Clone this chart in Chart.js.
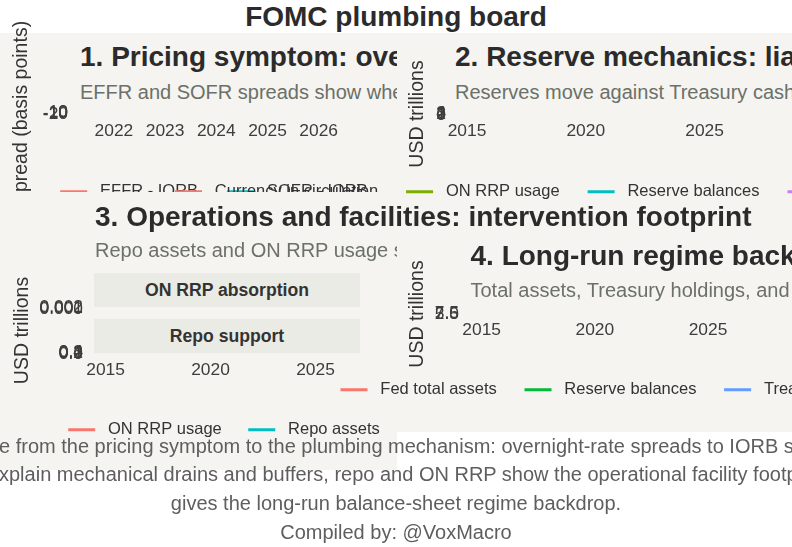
<!DOCTYPE html>
<html><head><meta charset="utf-8">
<script src="https://cdn.jsdelivr.net/npm/chart.js@4.4.1/dist/chart.umd.min.js"></script>
<style>
html,body{margin:0;padding:0;background:#fff;}
body{width:792px;height:547px;position:relative;overflow:hidden;font-family:'Liberation Sans',Arial,sans-serif;}
.bg{position:absolute;background:#F5F4F0;}
.t{position:absolute;white-space:nowrap;line-height:1;}
.title{font-weight:bold;font-size:28px;color:#2b2b2b;}
.sub{font-size:20px;color:#6b7068;}
.strip{position:absolute;background:#EBEBE6;font-weight:bold;font-size:17.6px;color:#333;display:flex;align-items:center;justify-content:center;}
.cap{position:absolute;white-space:nowrap;line-height:1;font-size:20px;color:#5e5e5e;}
canvas{position:absolute;}
</style></head>
<body>
<div class="t title" style="left:0;width:792px;text-align:center;top:3.3px;">FOMC plumbing board</div>

<div class="bg" style="left:0;top:33px;width:397px;height:159px;"></div>
<div class="t title" style="left:80px;top:43px;">1. Pricing symptom: overnight-rate spreads to IORB</div>
<div class="t sub" style="left:80px;top:82.1px;">EFFR and SOFR spreads show when overnight funding tightens</div>
<canvas id="c1" width="428" height="210" style="left:0;top:0;"></canvas>

<div class="bg" style="left:397px;top:33px;width:395px;height:202px;"></div>
<div class="t title" style="left:455px;top:43px;">2. Reserve mechanics: liability-side drains and buffers</div>
<div class="t sub" style="left:455px;top:82.1px;">Reserves move against Treasury cash, ON RRP, and currency</div>
<canvas id="c2" width="940" height="170" style="left:147px;top:40px;"></canvas>

<div class="bg" style="left:0;top:192px;width:397px;height:278px;"></div>
<div class="t title" style="left:95px;top:203px;">3. Operations and facilities: intervention footprint</div>
<div class="t sub" style="left:95px;top:239.8px;">Repo assets and ON RRP usage show when the Fed adds or absorbs liquidity</div>
<div class="strip" style="left:94px;top:273px;width:266px;height:34px;">ON RRP absorption</div>
<div class="strip" style="left:94px;top:319px;width:266px;height:34px;">Repo support</div>
<canvas id="c3" width="448" height="188" style="left:0;top:260px;"></canvas>

<div class="bg" style="left:397px;top:235px;width:395px;height:197px;"></div>
<div class="t title" style="left:470.5px;top:242.3px;">4. Long-run regime backdrop</div>
<div class="t sub" style="left:470.5px;top:280.1px;">Total assets, Treasury holdings, and reserve balances</div>
<canvas id="c4" width="735" height="168" style="left:250px;top:240px;"></canvas>

<div class="cap" id="cap1" style="top:436.1px;left:0;"><span class="pre">Mov</span>e from the pricing symptom to the plumbing mechanism: overnight-rate spreads to IORB show funding pressure,</div>
<div class="cap" id="cap2" style="top:464.1px;left:0;"><span class="pre">reserves and Treasury cash e</span>xplain mechanical drains and buffers, repo and ON RRP show the operational facility footprint, and the balance sheet</div>
<div class="cap" style="top:493.1px;left:0;width:792px;text-align:center;">gives the long-run balance-sheet regime backdrop.</div>
<div class="cap" style="top:522.1px;left:0;width:792px;text-align:center;">Compiled by: @VoxMacro</div>

<script>
// ---------------- DATA ----------------
// Panel 1: overnight-rate spreads to IORB (basis points), quarterly
const years1 = [2021.25,2021.5,2021.75,2022.0,2022.25,2022.5,2022.75,2023.0,2023.25,2023.5,2023.75,2024.0,2024.25,2024.5,2024.75,2025.0,2025.25,2025.5,2025.75,2026.0];
const effrSpread = [-7,-5,-7,-7,-7,-7,-7,-7,-7,-7,-7,-7,-7,-7,-7,-7,-6,-5,-4,-1];
const sofrSpread = [-10,-15,-10,-10,-10,-10,-8,-10,-10,-9,-8,-7,-6,-6,-5,-3,-2,0,2,4];
const xTicks1 = [2022,2023,2024,2025,2026];
const yTicks1 = [-20,-10,0,10];

// Panels 2-4: USD trillions, semiannual
const years = [2015.0,2015.5,2016.0,2016.5,2017.0,2017.5,2018.0,2018.5,2019.0,2019.5,2020.0,2020.5,2021.0,2021.5,2022.0,2022.5,2023.0,2023.5,2024.0,2024.5,2025.0,2025.5,2026.0];
const currency = [1.34,1.38,1.42,1.48,1.52,1.57,1.62,1.67,1.70,1.75,1.81,1.94,2.07,2.16,2.20,2.24,2.26,2.30,2.31,2.33,2.36,2.39,2.42];
const onRrp = [0.10,0.15,0.45,0.30,0.40,0.05,0.10,0.04,0.01,0.01,0.00,0.00,0.02,0.99,1.70,2.33,2.22,2.10,1.00,0.40,0.20,0.10,0.01];
const reserves = [2.56,2.60,2.38,2.20,2.10,2.30,2.20,1.90,1.65,1.51,1.60,2.80,3.20,3.90,4.20,3.30,3.03,3.20,3.50,3.30,3.20,3.25,2.95];
const tga = [0.20,0.25,0.35,0.30,0.40,0.20,0.20,0.35,0.38,0.30,0.40,1.60,1.20,0.70,0.50,0.60,0.45,0.25,0.75,0.75,0.85,0.40,0.85];
const yTicks2 = [0,1,2,3,4];
const xTicksLong = [2015,2020,2025];

// Panel 3 facets
const onRrpFacet = [0.0008,0.0012,0.0020,0.0015,0.0018,0.0006,0.0009,0.0004,0.0002,0.0001,0.0000,0.0000,0.0002,0.0010,0.0016,0.0019,0.0018,0.0017,0.0011,0.0006,0.0003,0.0002,0.0001];
const repoAssets = [0,0,0,0,0,0,0,0,0,0,0.41,0.06,0,0,0,0,0,0,0,0,0,0,0.01];
const yTicks3a = [0,0.001,0.002];
const yTicks3b = [0,0.1,0.2,0.3,0.4];

// Panel 4
const fedAssets = [4.50,4.50,4.49,4.48,4.47,4.46,4.44,4.30,4.07,3.80,4.17,7.10,7.40,8.20,8.76,8.90,8.49,8.30,7.68,7.20,6.85,6.66,6.58];
const treasuries = [2.46,2.46,2.46,2.46,2.46,2.46,2.45,2.35,2.19,2.10,2.37,4.30,4.69,5.20,5.65,5.77,5.47,5.20,4.85,4.47,4.25,4.20,4.19];
const yTicks4 = [2.5,5.0,7.5];

// ---------------- CHARTS ----------------
Chart.defaults.font.family = "'Liberation Sans', Arial, sans-serif";
Chart.defaults.color = '#3d3d3d';
Chart.defaults.animation = false;

const TICKFONT = {size: 17.4};
const TITLEFONT = {size: 19.5};
const baseGen = Chart.defaults.plugins.legend.labels.generateLabels;
const gen = chart => baseGen(chart).map(l => Object.assign({}, l, {text: ' ' + l.text, fillStyle: l.strokeStyle, lineWidth: 0, lineDash: []}));
// every plot panel is collapsed to ~2px in the reference, so the lines are clipped away
const COLLAPSED = {left: 0, right: 0, top: -1, bottom: -1};

function ds(label, xs, ys, color, axis) {
  return {label, data: xs.map((x, i) => ({x: x, y: ys[i]})), borderColor: color, backgroundColor: color,
    borderWidth: 1.5, pointRadius: 0, yAxisID: axis || 'y', clip: COLLAPSED};
}
function legend(pad, align) {
  return {display: true, position: 'bottom', align: align, maxHeight: 400,
    labels: {boxWidth: 27, boxHeight: 3, padding: pad, color: '#333', font: {size: 16.5}, generateLabels: gen}};
}
function xAxis(min, max, ticks, pad, h) {
  return {type: 'linear', min, max, grid: {display: false, drawTicks: false}, border: {display: false},
    ticks: {autoSkip: false, maxRotation: 0, padding: pad, font: TICKFONT, color: '#3d3d3d', callback: v => String(v)},
    afterBuildTicks: s => { s.ticks = ticks.map(v => ({value: v})); },
    afterFit: s => { s.height = h; }};
}
function yAxis(min, max, ticks, fmt, pad, w, titleText, titleOff, extra) {
  const a = {type: 'linear', position: 'left', min, max, grid: {display: false, drawTicks: false}, border: {display: false},
    ticks: {autoSkip: false, padding: pad, font: TICKFONT, color: '#3d3d3d', callback: fmt},
    afterBuildTicks: s => { s.ticks = ticks.map(v => ({value: v})); },
    afterFit: s => { s.width = w; },
    title: {display: !!titleText, text: titleText || '', font: TITLEFONT, color: '#333', padding: {top: titleOff, bottom: 0}}};
  return Object.assign(a, extra || {});
}
function padAxis(w) {
  return {type: 'linear', position: 'right', display: true, grid: {display: false, drawTicks: false}, border: {display: false},
    ticks: {display: false}, afterFit: s => { s.width = w; }};
}
const baseOpts = {responsive: false, maintainAspectRatio: false, animation: false, devicePixelRatio: 1};

// Panel 1
new Chart(document.getElementById('c1'), {
  type: 'line',
  data: {datasets: [
    ds('EFFR - IORB', years1, effrSpread, '#F8766D'),
    ds('SOFR - IORB', years1, sofrSpread, '#00BFC4')
  ]},
  options: Object.assign({}, baseOpts, {
    layout: {padding: {top: 112, left: 0, right: 0, bottom: 0}},
    plugins: {legend: legend(29, 'center'), tooltip: {enabled: false}},
    scales: {
      x: xAxis(2021.2, 2026.3, xTicks1, 6.56, 40.5),
      y: yAxis(-20, 10, yTicks1, v => String(v), 5, 73, 'Spread (basis points)', 10.3),
      pad: padAxis(94)
    }
  })
});

// Panel 2
new Chart(document.getElementById('c2'), {
  type: 'line',
  data: {datasets: [
    ds('Currency in circulation', years, currency, '#F8766D'),
    ds('ON RRP usage', years, onRrp, '#7CAE00'),
    ds('Reserve balances', years, reserves, '#00BFC4'),
    ds('Treasury General Account', years, tga, '#C77CFF')
  ]},
  options: Object.assign({}, baseOpts, {
    layout: {padding: {top: 73, left: 0, right: 0, bottom: 0}},
    plugins: {legend: legend(28, 'start'), tooltip: {enabled: false}},
    scales: {
      x: xAxis(2014.37, 2027.12, xTicksLong, 6.06, 40.5),
      y: yAxis(0, 4, yTicks2, v => String(v), 6, 305, 'USD trillions', 259.3),
      pad: padAxis(332)
    }
  })
});

// Panel 3 (two facets stacked on one chart)
new Chart(document.getElementById('c3'), {
  type: 'line',
  data: {datasets: [
    ds('ON RRP usage', years, onRrpFacet, '#F8766D', 'yRRP'),
    ds('Repo assets', years, repoAssets, '#00BFC4', 'yRepo')
  ]},
  options: Object.assign({}, baseOpts, {
    layout: {padding: {top: 47, left: 0, right: 0, bottom: 0}},
    plugins: {legend: legend(26.5, 'center'), tooltip: {enabled: false}},
    scales: {
      x: xAxis(2014.45, 2027.12, xTicksLong, 5.56, 41),
      yRRP: yAxis(0, 0.002, yTicks3a, v => Number(v).toFixed(3), 11, 94, '', 0, {stack: 'facets', stackWeight: 2, weight: 3}),
      yGap: yAxis(0, 1, [], v => '', 11, 94, 'USD trillions', 10.8, {stack: 'facets', stackWeight: 43, weight: 2}),
      yRepo: yAxis(0, 0.4, yTicks3b, v => Number(v).toFixed(1), 11, 94, '', 0, {stack: 'facets', stackWeight: 2, weight: 1}),
      pad: padAxis(88)
    }
  })
});

// Panel 4
new Chart(document.getElementById('c4'), {
  type: 'line',
  data: {datasets: [
    ds('Fed total assets', years, fedAssets, '#F8766D'),
    ds('Reserve balances', years, reserves, '#00BA38'),
    ds('Treasury holdings', years, treasuries, '#619CFF')
  ]},
  options: Object.assign({}, baseOpts, {
    layout: {padding: {top: 73, left: 0, right: 0, bottom: 0}},
    plugins: {legend: legend(27.7, 'center'), tooltip: {enabled: false}},
    scales: {
      x: xAxis(2014.22, 2027.12, xTicksLong, 4.56, 38.8),
      y: yAxis(1.2, 9.2, yTicks4, v => Number(v).toFixed(1), 5, 214, 'USD trillions', 156.3),
      pad: padAxis(229)
    }
  })
});

// caption lines that overflow the page: align visible part like the reference
[['cap1', -1], ['cap2', -1]].forEach(([id, off]) => {
  const el = document.getElementById(id);
  const pre = el.querySelector('.pre');
  el.style.left = (off - pre.getBoundingClientRect().width) + 'px';
});
</script>
</body></html>
